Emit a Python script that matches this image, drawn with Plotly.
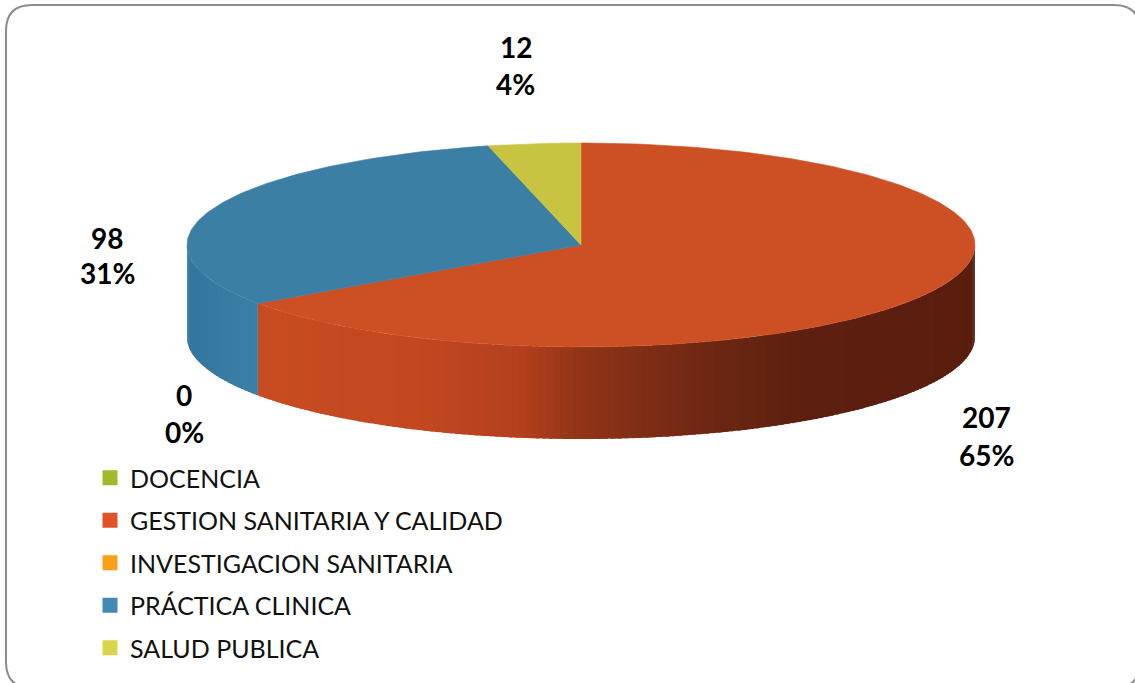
import numpy as np
import plotly.graph_objects as go

# ---------------- data ----------------
categories = ["DOCENCIA", "GESTION SANITARIA Y CALIDAD", "INVESTIGACION SANITARIA",
              "PRÁCTICA CLINICA", "SALUD PUBLICA"]
values = [0, 207, 0, 98, 12]

# ---------------- style ----------------
legend_colors = ["#a3b82a", "#e0532a", "#f9a01b", "#4488b5", "#d9d44a"]
top_colors = ["#9bb22a", "#cd4f24", "#f0961c", "#3c7fa5", "#c9c342"]
# side-wall shading control points (x pixel -> rgb)
side_ramps = {
    1: ([258, 420, 520, 580, 700, 800, 975],
        [(201, 76, 34), (195, 72, 32), (180, 64, 30), (145, 52, 24), (112, 40, 20), (94, 32, 16), (90, 30, 15)]),
    3: ([188, 258], [(52, 118, 158), (60, 128, 168)]),
}
# label anchor positions (pixel) for value / percent lines
label_pos = {0: None, 1: ((986, 417), (986, 455)), 2: ((184, 395), (184, 432)),
             3: ((107, 238), (107, 273)), 4: ((516, 47), (515, 84))}

W, H = 1135, 683
CX, CY, RX, RY, DEPTH = 581, 245, 394, 102, 92

total = sum(values)


def pt(theta, dy=0.0):
    t = np.radians(theta)
    return CX + RX * np.sin(t), CY - RY * np.cos(t) + dy


def ramp_color(idx, x):
    xs, cs = side_ramps.get(idx, ([0, W], [(128, 128, 128)] * 2))
    cs = np.array(cs, dtype=float)
    r = np.interp(x, xs, cs[:, 0])
    g = np.interp(x, xs, cs[:, 1])
    b = np.interp(x, xs, cs[:, 2])
    return f"rgb({int(r)},{int(g)},{int(b)})"


fig = go.Figure()

# angles
bounds = []
cum = 0
for v in values:
    a0 = cum / total * 360
    cum += v
    a1 = cum / total * 360
    bounds.append((a0, a1))

# side walls (front half only: 90..270 deg)
for i, (a0, a1) in enumerate(bounds):
    s0, s1 = max(a0, 90), min(a1, 270)
    if s1 <= s0:
        continue
    n = max(2, int((s1 - s0) / 1.0))
    edges = np.linspace(s0, s1, n + 1)
    for e0, e1 in zip(edges[:-1], edges[1:]):
        e1x = min(e1 + 0.6, s1)
        th = np.linspace(e0, e1x, 4)
        xt, yt = pt(th)
        xb, yb = pt(th[::-1], DEPTH)
        xs = np.concatenate([xt, xb, xt[:1]])
        ys = np.concatenate([yt, yb, yt[:1]])
        col = ramp_color(i, float(np.mean(xt)))
        fig.add_trace(go.Scatter(x=xs, y=ys, mode="lines", fill="toself",
                                 fillcolor=col, line=dict(width=0),
                                 hoverinfo="skip", showlegend=False))

# top face wedges
for i, (a0, a1) in enumerate(bounds):
    if a1 <= a0:
        continue
    th = np.linspace(a0, a1, max(3, int(a1 - a0) + 1))
    xa, ya = pt(th)
    xs = np.concatenate([[CX], xa, [CX]])
    ys = np.concatenate([[CY], ya, [CY]])
    fig.add_trace(go.Scatter(x=xs, y=ys, mode="lines", fill="toself",
                             fillcolor=top_colors[i], line=dict(color=top_colors[i], width=0.6),
                             hoverinfo="text", text=f"{categories[i]}: {values[i]}",
                             showlegend=False))

# legend entries
for i, c in enumerate(categories):
    fig.add_trace(go.Scatter(x=[None], y=[None], mode="markers", name=c,
                             marker=dict(symbol="square", size=15, color=legend_colors[i]),
                             legendgroup=c, showlegend=True))

# labels
annotations = []
for i, v in enumerate(values):
    pos = label_pos.get(i)
    if pos is None:
        continue
    pct = round(v / total * 100)
    for txt, (lx, ly) in zip([f"{v}", f"{pct}%"], pos):
        annotations.append(dict(x=lx, y=ly, xref="x", yref="y", text=f"<b>{txt}</b>",
                                showarrow=False, xanchor="center", yanchor="middle",
                                font=dict(family="Lato, Open Sans, sans-serif", size=28, color="#000")))

# rounded border
r = 26
x0, y0, x1, y1 = 6, 5, 1140, 688
border = (f"M {x0+r},{y0} L {x1-r},{y0} Q {x1},{y0} {x1},{y0+r} L {x1},{y1-r} "
          f"Q {x1},{y1} {x1-r},{y1} L {x0+r},{y1} Q {x0},{y1} {x0},{y1-r} "
          f"L {x0},{y0+r} Q {x0},{y0} {x0+r},{y0} Z")

fig.update_layout(
    width=W, height=H,
    margin=dict(l=0, r=0, t=0, b=0),
    paper_bgcolor="white", plot_bgcolor="white",
    xaxis=dict(range=[0, W], visible=False, fixedrange=True),
    yaxis=dict(range=[H, 0], visible=False, fixedrange=True),
    showlegend=True,
    legend=dict(x=90 / W, y=1 - 455 / H, xanchor="left", yanchor="top",
                font=dict(family="Lato, Open Sans, sans-serif", size=25, color="#111"),
                tracegroupgap=7, traceorder="grouped", bgcolor="rgba(0,0,0,0)",
                itemsizing="trace", itemwidth=30),
    annotations=annotations,
    shapes=[dict(type="path", path=border, xref="x", yref="y",
                 line=dict(color="#8c8c8c", width=2), fillcolor="rgba(0,0,0,0)")],
)

fig.write_html("out.html", config={"displayModeBar": False},
               post_script="document.body.style.margin='0px';document.body.style.overflow='hidden';")
